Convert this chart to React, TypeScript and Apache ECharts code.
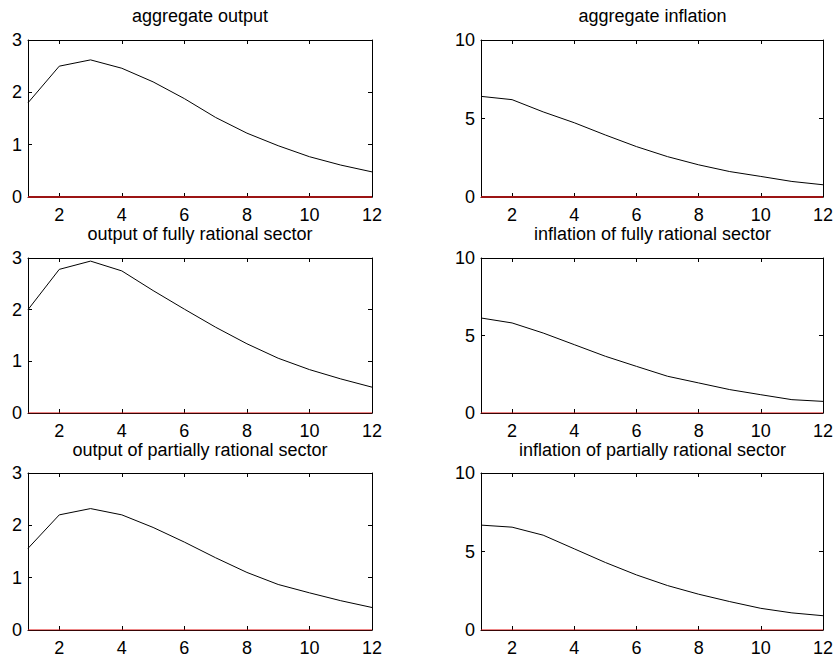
import React, { useEffect, useRef } from "react";
import * as echarts from "echarts";

const periods = [1, 2, 3, 4, 5, 6, 7, 8, 9, 10, 11, 12];
const xTickValues = [2, 4, 6, 8, 10, 12];
const outputTicks = [0, 1, 2, 3];
const inflationTicks = [0, 5, 10];

const titles = [
  "aggregate output",
  "aggregate inflation",
  "output of fully rational sector",
  "inflation of fully rational sector",
  "output of partially rational sector",
  "inflation of partially rational sector",
];

const aggOutput = [1.8, 2.5, 2.62, 2.46, 2.2, 1.88, 1.52, 1.22, 0.98, 0.77, 0.61, 0.48];
const aggInflation = [6.41, 6.2, 5.42, 4.73, 3.95, 3.21, 2.57, 2.05, 1.62, 1.31, 0.99, 0.78];
const fullOutput = [2.0, 2.78, 2.94, 2.75, 2.37, 2.01, 1.66, 1.34, 1.06, 0.84, 0.66, 0.5];
const fullInflation = [6.13, 5.81, 5.16, 4.41, 3.66, 3.01, 2.37, 1.94, 1.51, 1.18, 0.86, 0.75];
const partialOutput = [1.56, 2.2, 2.32, 2.2, 1.96, 1.68, 1.38, 1.1, 0.87, 0.71, 0.56, 0.43];
const partialInflation = [6.68, 6.55, 6.04, 5.17, 4.3, 3.51, 2.83, 2.28, 1.81, 1.38, 1.09, 0.91];

const FONT = "'Liberation Sans', Arial, sans-serif";

export default function App() {
  const ref = useRef<HTMLDivElement>(null);

  useEffect(() => {
    if (!ref.current) return;
    const chart = echarts.init(ref.current, null, { renderer: "svg" });

    const seriesData = [aggOutput, aggInflation, fullOutput, fullInflation, partialOutput, partialInflation];
    const colLeft = [28, 481];
    const colWidth = [344, 343];
    const rowTop = [40, 258, 473];
    const rowHeight = [157, 155, 157];
    const titleTop = [7, 225, 441];
    const zeroColors = ["#9c1414", "#e01010", "#e01010"];
    const zeroWidths = [2, 1.2, 1.2];

    const grids: any[] = [];
    const xAxes: any[] = [];
    const yAxes: any[] = [];
    const series: any[] = [];
    const titleOpts: any[] = [];

    for (let i = 0; i < 6; i++) {
      const r = Math.floor(i / 2);
      const c = i % 2;
      const isOutput = c === 0;
      const yTicks = isOutput ? outputTicks : inflationTicks;
      const yMax = yTicks[yTicks.length - 1];
      const yInterval = yTicks[1] - yTicks[0];

      grids.push({
        left: colLeft[c],
        top: rowTop[r],
        width: colWidth[c],
        height: rowHeight[r],
        show: false,
      });

      titleOpts.push({
        text: titles[i],
        left: colLeft[c] + colWidth[c] / 2,
        top: titleTop[r],
        textAlign: "center",
        padding: 0,
        textStyle: { fontFamily: FONT, fontSize: 18, fontWeight: "normal", color: "#000" },
      });

      const baseX = {
        type: "value",
        gridIndex: i,
        min: 1,
        max: 12,
        splitLine: { show: false },
        axisLine: { show: true, onZero: false, lineStyle: { color: "#000", width: 1 } },
        axisTick: { show: true, inside: true, length: 4, customValues: xTickValues, lineStyle: { color: "#000" } },
      };
      xAxes.push({
        ...baseX,
        position: "bottom",
        axisLabel: {
          show: true,
          customValues: xTickValues,
          color: "#000",
          fontFamily: FONT,
          fontSize: 18,
          margin: 9,
        },
      });
      xAxes.push({ ...baseX, position: "top", axisLabel: { show: false } });

      const baseY = {
        type: "value",
        gridIndex: i,
        min: 0,
        max: yMax,
        interval: yInterval,
        splitLine: { show: false },
        axisLine: { show: true, onZero: false, lineStyle: { color: "#000", width: 1 } },
        axisTick: { show: true, inside: true, length: 4, lineStyle: { color: "#000" } },
      };
      yAxes.push({
        ...baseY,
        position: "left",
        axisLabel: { show: true, color: "#000", fontFamily: FONT, fontSize: 18, margin: 6 },
      });
      yAxes.push({ ...baseY, position: "right", axisLabel: { show: false } });

      series.push({
        type: "line",
        xAxisIndex: i * 2,
        yAxisIndex: i * 2,
        data: periods.map((p, k) => [p, seriesData[i][k]]),
        showSymbol: false,
        symbol: "none",
        lineStyle: { color: "#000", width: 1 },
        z: 3,
      });
      series.push({
        type: "line",
        xAxisIndex: i * 2,
        yAxisIndex: i * 2,
        data: periods.map((p) => [p, 0]),
        showSymbol: false,
        symbol: "none",
        lineStyle: { color: zeroColors[r], width: zeroWidths[r] },
        z: 4,
      });
    }

    chart.setOption({
      animation: false,
      backgroundColor: "#fff",
      title: titleOpts,
      grid: grids,
      xAxis: xAxes,
      yAxis: yAxes,
      series,
    });

    return () => chart.dispose();
  }, []);

  return (
    <div
      ref={ref}
      style={{ position: "fixed", left: 0, top: 0, width: 836, height: 658, background: "#fff" }}
    />
  );
}
